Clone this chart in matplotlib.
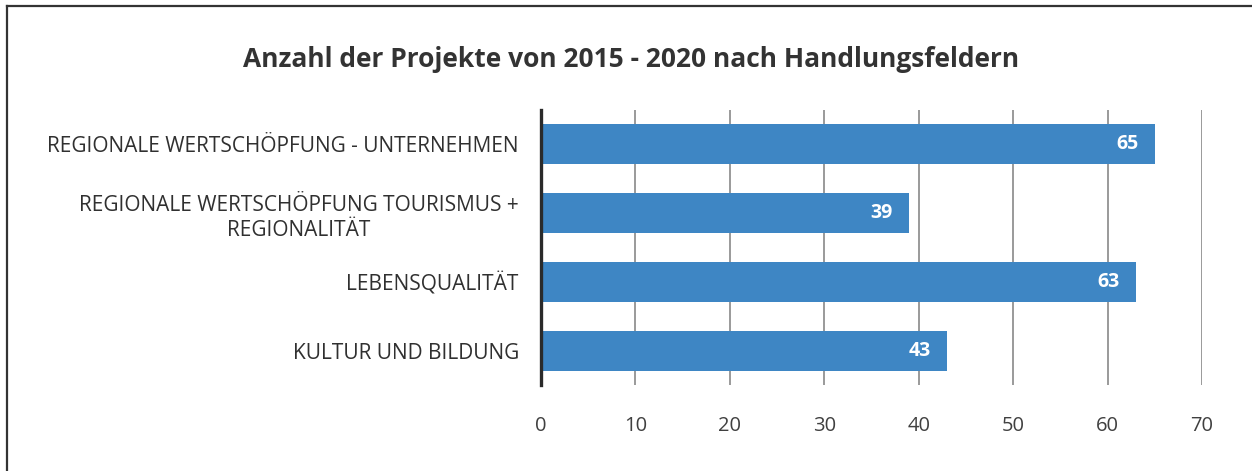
import matplotlib.pyplot as plt
from matplotlib.lines import Line2D

# project counts per field of action
categories = [
    "REGIONALE WERTSCHÖPFUNG - UNTERNEHMEN",
    "REGIONALE WERTSCHÖPFUNG TOURISMUS +\nREGIONALITÄT",
    "LEBENSQUALITÄT",
    "KULTUR UND BILDUNG",
]
counts = [65, 39, 63, 43]
xticks = [0, 10, 20, 30, 40, 50, 60, 70]

plt.rcParams['font.family'] = ['Open Sans', 'DejaVu Sans']

fig = plt.figure(figsize=(12.52, 4.71), dpi=100)
ax = fig.add_axes([0.4321, 0.1826, 0.528, 0.5839])

pos = list(range(len(categories)))
ax.barh(pos, counts, height=0.58, color='#3E86C4', zorder=3)

for y, v in zip(pos, counts):
    ax.annotate(str(v), (v, y), xytext=(-12, 0), textcoords='offset points',
                ha='right', va='center', color='white', fontsize=14,
                fontweight='bold', zorder=4)

ax.set_xlim(0, 70)
ax.set_ylim(3.5, -0.5)
ax.set_xticks(xticks)
ax.set_yticks(pos)
ax.set_yticklabels(categories, multialignment='center', linespacing=1.25)
ax.tick_params(axis='x', length=0, pad=22, labelsize=14.5, labelcolor='#404040')
ax.tick_params(axis='y', length=0, pad=16, labelsize=15, labelcolor='#303030')

ax.grid(axis='x', color='#9a9a9a', linewidth=1.4, zorder=1)
for s in ['top', 'right', 'bottom']:
    ax.spines[s].set_visible(False)
ax.spines['left'].set_color('#2a2a2a')
ax.spines['left'].set_linewidth(2.4)
ax.spines['left'].set_zorder(5)

fig.text(0.504, 0.874, "Anzahl der Projekte von 2015 - 2020 nach Handlungsfeldern",
         ha='center', va='center', fontsize=19, fontweight='bold', color='#333333')

# frame on the top and left edges
fig.add_artist(Line2D([0.0056, 1.0], [0.987, 0.987], transform=fig.transFigure,
                      color='#333333', linewidth=1.6))
fig.add_artist(Line2D([0.0056, 0.0056], [0.0, 0.987], transform=fig.transFigure,
                      color='#333333', linewidth=1.6))

fig.savefig('out.png', dpi=100, facecolor='white')
